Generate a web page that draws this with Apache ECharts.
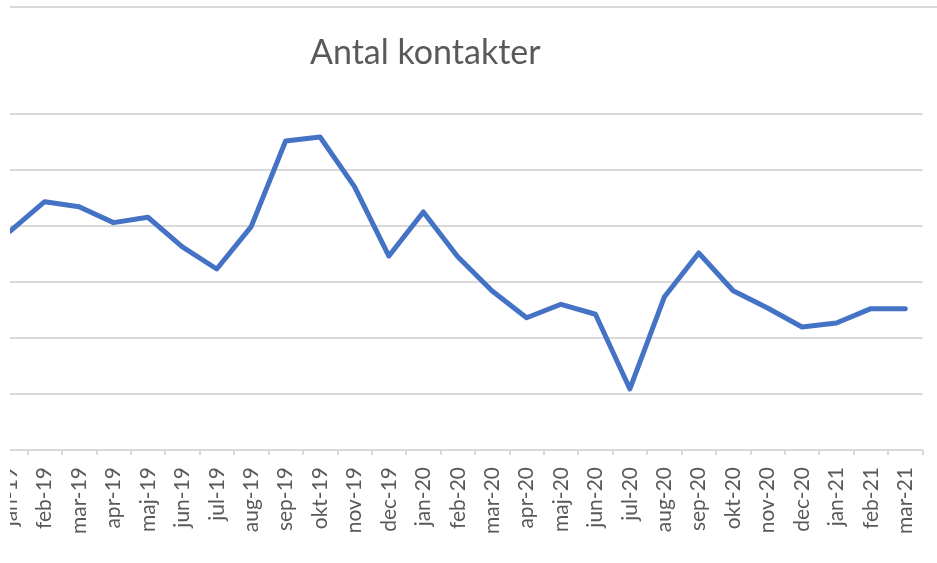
<!DOCTYPE html>
<html><head><meta charset="utf-8">
<script src="https://cdn.jsdelivr.net/npm/echarts@6/dist/echarts.min.js"></script>
<style>
html,body{margin:0;padding:0;background:#fff;overflow:hidden;width:937px;height:563px}
#wrap{position:absolute;left:10px;top:0;width:927px;height:563px;overflow:hidden}
#chart{position:absolute;left:-20px;top:0;width:947px;height:563px}
</style></head><body>
<div id="wrap"><div id="chart"></div></div>
<script>
const titleText = 'Antal kontakter';
const months = ['jan-19','feb-19','mar-19','apr-19','maj-19','jun-19','jul-19','aug-19','sep-19','okt-19','nov-19','dec-19',
  'jan-20','feb-20','mar-20','apr-20','maj-20','jun-20','jul-20','aug-20','sep-20','okt-20','nov-20','dec-20',
  'jan-21','feb-21','mar-21'];
const contacts = [1955,2217,2172,2030,2078,1813,1616,1994,2759,2795,2351,1732,
  2125,1726,1420,1181,1301,1212,545,1366,1759,1422,1268,1098,
  1134,1262,1262];
const yMin = 0, yMax = 3000, yStep = 500;

const chart = echarts.init(document.getElementById('chart'), null, {renderer:'canvas'});
chart.setOption({
  animation: false,
  backgroundColor: '#ffffff',
  title: {
    text: titleText,
    left: 315, top: 31,
    textStyle: {fontFamily: 'Lato', fontSize: 34, fontWeight: 'normal', color: '#595959'}
  },
  graphic: [{
    type: 'line', silent: true,
    shape: {x1: 20, y1: 7, x2: 947, y2: 7},
    style: {stroke: '#d9d9d9', lineWidth: 2}
  }],
  grid: {left: 3, right: 14.5, top: 114, bottom: 113, containLabel: false},
  xAxis: {
    type: 'category', data: months, boundaryGap: true,
    axisLine: {show: true, lineStyle: {color: '#d9d9d9', width: 2}},
    axisTick: {show: true, interval: 0, length: 5, lineStyle: {color: '#d9d9d9', width: 2}},
    axisLabel: {interval: 0, rotate: 90, margin: 17, fontFamily: 'Lato', fontSize: 21, color: '#595959'},
    splitLine: {show: false}
  },
  yAxis: {
    type: 'value', min: yMin, max: yMax, interval: yStep,
    axisLine: {show: false}, axisTick: {show: false}, axisLabel: {show: false},
    splitLine: {show: true, lineStyle: {color: '#d9d9d9', width: 2}}
  },
  series: [{
    type: 'line', data: contacts, showSymbol: false, symbol: 'none',
    lineStyle: {color: '#4472C4', width: 5, join: 'round', cap: 'round'},
    itemStyle: {color: '#4472C4'}
  }]
});
</script>
</body></html>
